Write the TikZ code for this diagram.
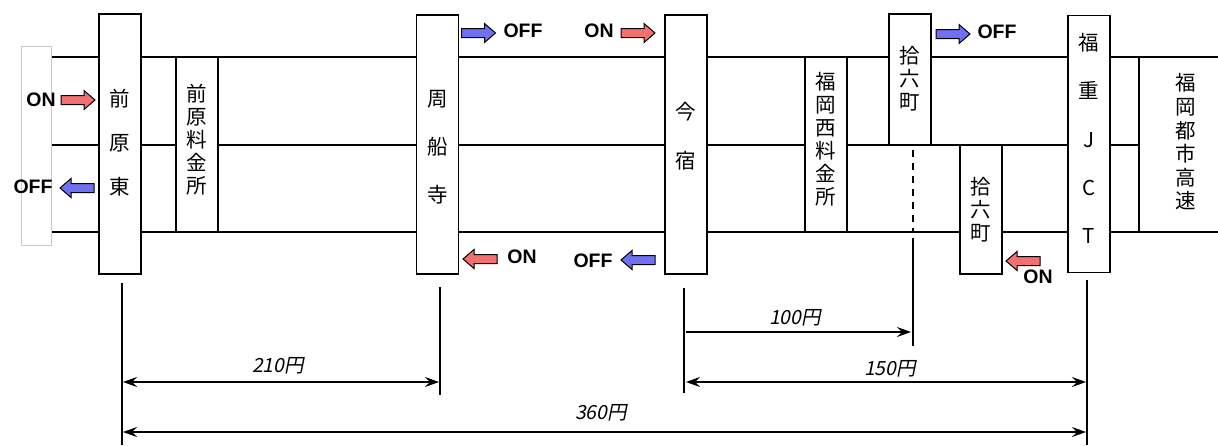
\documentclass[tikz,border=0pt]{standalone}
\usepackage{fontspec}
\newfontfamily\jp{Noto Sans CJK JP}
\newfontfamily\jpit[FakeSlant=0.2]{Noto Sans CJK JP}
\newfontfamily\lat{Liberation Sans}
\usetikzlibrary{arrows.meta}
\definecolor{onred}{RGB}{242,112,112}
\definecolor{offblue}{RGB}{112,112,242}
\definecolor{edgegray}{RGB}{200,200,200}
\tikzset{
  road/.style={line width=1.5pt},
  stbox/.style={draw, fill=white, line width=1.5pt, inner sep=0pt, minimum width=42pt},
  kanji/.style={font=\jp\fontsize{20.5}{#1}\selectfont, align=center, inner sep=0pt},
  onoff/.style={font=\lat\bfseries\fontsize{19.5}{19.5}\selectfont, inner sep=0pt},
  fare/.style={font=\jpit\fontsize{19.5}{19.5}\selectfont, inner sep=0pt},
  dim/.style={line width=1.2pt},
  tip/.style={line width=1.2pt, -{Stealth[length=14pt,width=10pt,inset=5pt]}},
  tips/.style={line width=1.2pt, {Stealth[length=14pt,width=10pt,inset=5pt]}-{Stealth[length=14pt,width=10pt,inset=5pt]}},
  pics/blkarrow/.style={code={
    \draw[line width=1pt, fill=#1] (-17,-4.5) -- (6,-4.5) -- (6,-9.5) -- (17,0) -- (6,9.5) -- (6,4.5) -- (-17,4.5) -- cycle;}}
}
\begin{document}
\begin{tikzpicture}[x=1pt,y=-1pt]
\useasboundingbox[fill=white] (0,0) rectangle (1218,445);

% left gray edge
\draw[edgegray, line width=1pt, fill=white] (21,46) rectangle (51,245);

% road lines
\draw[road] (52,57) -- (1218,57);
\draw[road] (52,145) -- (1218,145);
\draw[road] (52,232) -- (1218,232);

% boxes
\node[stbox, minimum height=260pt] (maebaraeast) at (120,144) {};
\node[stbox, minimum height=175pt] (maebaratoll) at (197,144.5) {};
\node[stbox, minimum height=259pt] (susenji) at (437.5,144.5) {};
\node[stbox, minimum height=259pt] (imajuku) at (686,144.5) {};
\node[stbox, minimum height=175pt] (nishitoll) at (826,144.5) {};
\node[stbox, minimum height=131pt] (jurokuup) at (910,79.5) {};
\node[stbox, minimum height=129pt] (jurokulo) at (981,209.5) {};
\node[stbox, minimum height=257pt] (jct) at (1089,144) {};
\node[draw, fill=white, line width=1.5pt, inner sep=0pt, minimum width=100pt, minimum height=175pt] (toshi) at (1189,144.5) {};

% box texts
\node[kanji=44] (t1) at (120,143) {前\\原\\東};
\node[kanji=23] (t2) at (197,140) {前\\原\\料\\金\\所};
\node[kanji=48] (t3) at (437.5,147) {周\\船\\寺};
\node[kanji=49] (t4) at (686,136.5) {今\\宿};
\node[kanji=23] (t5) at (826,139) {福\\岡\\西\\料\\金\\所};
\node[kanji=23] (t6) at (910,79) {拾\\六\\町};
\node[kanji=23] (t7) at (981,210) {拾\\六\\町};
\node[kanji=48.2] (t8) at (1089,138.5) {福\\重\\J\\C\\T};
\node[kanji=23.6] (t9) at (1186,142) {福\\岡\\都\\市\\高\\速};

% ON / OFF labels
\node[onoff] (on1) at (41,100) {ON};
\node[onoff] (off1) at (33,187) {OFF};
\node[onoff] (off2) at (523,31) {OFF};
\node[onoff] (on2) at (599,31) {ON};
\node[onoff] (on3) at (522,256.5) {ON};
\node[onoff] (off3) at (593,260.5) {OFF};
\node[onoff] (off4) at (997,32) {OFF};
\node[onoff] (on4) at (1038,277) {ON};

% block arrows
\pic at (78,100) {blkarrow=onred};
\pic[xscale=-1] at (77,188) {blkarrow=offblue};
\pic at (478.5,33) {blkarrow=offblue};
\pic at (638,33) {blkarrow=onred};
\pic[xscale=-1] at (480,259) {blkarrow=onred};
\pic[xscale=-1] at (638,260) {blkarrow=offblue};
\pic at (953,34) {blkarrow=offblue};
\pic[xscale=-1] at (1023,261) {blkarrow=onred};

% dashed line
\coordinate (dashtop) at (913,150);
\coordinate (dashbot) at (913,232);
\draw[line width=1.2pt, dash pattern=on 7pt off 6pt] (dashtop) -- (dashbot);

% dimension verticals
\coordinate (v1t) at (122,283); \coordinate (v1b) at (122,445);
\coordinate (v2t) at (440,287); \coordinate (v2b) at (440,395);
\coordinate (v3t) at (684,288); \coordinate (v3b) at (684,393);
\coordinate (v4t) at (913,238); \coordinate (v4b) at (913,346);
\coordinate (v5t) at (1087,280); \coordinate (v5b) at (1087,445);
\draw[dim] (v1t) -- (v1b);
\draw[dim] (v2t) -- (v2b);
\draw[dim] (v3t) -- (v3b);
\draw[dim] (v4t) -- (v4b);
\draw[dim] (v5t) -- (v5b);

% dimension arrows
\coordinate (a100l) at (686,332); \coordinate (a100r) at (911,332);
\coordinate (a210l) at (123,382); \coordinate (a210r) at (439,382);
\coordinate (a150l) at (686,382); \coordinate (a150r) at (1086,382);
\coordinate (a360l) at (123,432); \coordinate (a360r) at (1086,432);
\draw[tip] (a100l) -- (a100r);
\draw[tips] (a210l) -- (a210r);
\draw[tips] (a150l) -- (a150r);
\draw[tips] (a360l) -- (a360r);

\node[fare] (f100) at (795,318) {100円};
\node[fare] (f210) at (278,366) {210円};
\node[fare] (f150) at (890,369) {150円};
\node[fare] (f360) at (601,413) {360円};
\end{tikzpicture}
\end{document}
